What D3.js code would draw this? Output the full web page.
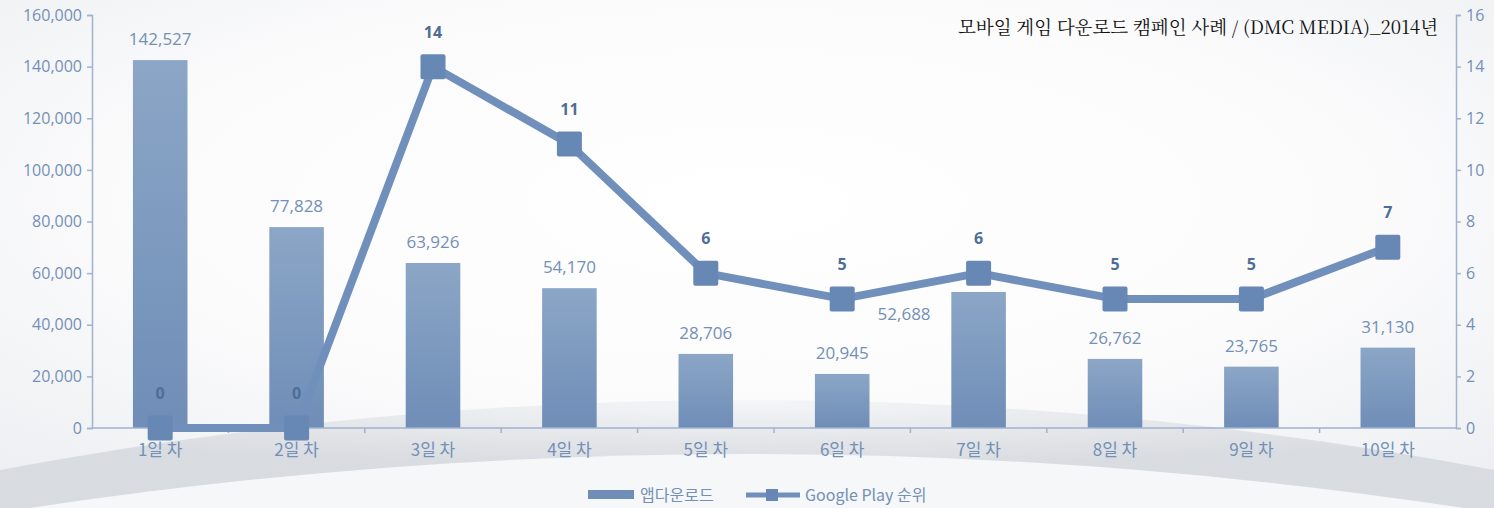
<!DOCTYPE html>
<html>
<head>
<meta charset="utf-8">
<script src="https://cdn.jsdelivr.net/npm/d3@7"></script>
<style>
  body { margin: 0; background: #fff; }
  svg { display: block; font-family: "Noto Sans CJK KR", "Noto Sans", sans-serif; }
</style>
</head>
<body>
<div id="chart"></div>
<script>
(function(){

const width = 1494;
const height = 508;
const margin = {top:15, right:38, bottom:80, left:92};

// data
const days = ["1일 차","2일 차","3일 차","4일 차","5일 차","6일 차","7일 차","8일 차","9일 차","10일 차"];
const downloads = [142527, 77828, 63926, 54170, 28706, 20945, 52688, 26762, 23765, 31130];
const ranks = [0, 0, 14, 11, 6, 5, 6, 5, 5, 7];
const leftTicks = [0, 20000, 40000, 60000, 80000, 100000, 120000, 140000, 160000];
const rightTicks = [0, 2, 4, 6, 8, 10, 12, 14, 16];
const seriesNames = ["앱다운로드", "Google Play 순위"];
const title = "모바일 게임 다운로드 캠페인 사례 / (DMC MEDIA)_2014년";

const axisColor = "#9fb3cf";
const textColor = "#7390b6";
const lineColor = "#7090bb";

const svg = d3.select("#chart")
  .append("svg")
  .attr("width", width)
  .attr("height", height);

const defs = svg.append("defs");

// background: soft grey with a white dome
const bg = defs.append("radialGradient")
  .attr("id", "bg")
  .attr("cx", "50%").attr("cy", "40%").attr("r", "75%");
bg.append("stop").attr("offset", "0%").attr("stop-color", "#ffffff");
bg.append("stop").attr("offset", "55%").attr("stop-color", "#fbfbfc");
bg.append("stop").attr("offset", "100%").attr("stop-color", "#eceef1");

const floor = defs.append("radialGradient")
  .attr("id", "floor")
  .attr("cx", "50%").attr("cy", "0%").attr("r", "60%");
floor.append("stop").attr("offset", "0%").attr("stop-color", "#f4f5f7");
floor.append("stop").attr("offset", "100%").attr("stop-color", "#d6d9de");

const barGrad = defs.append("linearGradient")
  .attr("id", "barGrad")
  .attr("x1", 0).attr("y1", 0).attr("x2", 0).attr("y2", 1);
barGrad.append("stop").attr("offset", "0%").attr("stop-color", "#8ba6c6");
barGrad.append("stop").attr("offset", "100%").attr("stop-color", "#6f8db7");

svg.append("rect")
  .attr("width", width).attr("height", height)
  .attr("fill", "url(#bg)");

// curved grey floor at the bottom
svg.append("path")
  .attr("d", `M0,${height} L0,470 Q${width/2},330 ${width},470 L${width},${height} Z`)
  .attr("fill", "url(#floor)")
  .attr("opacity", 0.9);
svg.append("path")
  .attr("d", `M30,${height} Q${width/2},400 ${width-30},${height} Z`)
  .attr("fill", "#f6f7f8");

// scales
const x = d3.scaleBand()
  .domain(days)
  .range([margin.left, width - margin.right])
  .paddingInner(0.6)
  .paddingOuter(0.3);

const xc = d => x(d) + x.bandwidth()/2;

const y = d3.scaleLinear()
  .domain([0, 160000])
  .range([height - margin.bottom, margin.top]);

const y2 = d3.scaleLinear()
  .domain([0, 16])
  .range([height - margin.bottom, margin.top]);

// bars
svg.selectAll(".bar")
  .data(downloads)
  .enter()
  .append("rect")
  .attr("class", "bar")
  .attr("x", (d,i) => x(days[i]))
  .attr("y", d => y(d))
  .attr("width", x.bandwidth())
  .attr("height", d => y(0) - y(d))
  .attr("fill", "url(#barGrad)");

// axes
const fmt = d3.format(",");

const leftAxis = svg.append("g")
  .attr("transform", `translate(${margin.left},0)`)
  .call(d3.axisLeft(y).tickValues(leftTicks).tickFormat(fmt).tickSizeOuter(0).tickSize(5));

const rightAxis = svg.append("g")
  .attr("transform", `translate(${width - margin.right},0)`)
  .call(d3.axisRight(y2).tickValues(rightTicks).tickSizeOuter(0).tickSize(5));

[leftAxis, rightAxis].forEach(g => {
  g.select(".domain").attr("stroke", axisColor).attr("stroke-width", 1.5);
  g.selectAll(".tick line").attr("stroke", axisColor).attr("stroke-width", 1.5);
  g.selectAll(".tick text")
    .attr("fill", textColor)
    .style("font-size", "16px")
    .style("font-family", "'Open Sans', 'Noto Sans', sans-serif");
});
leftAxis.selectAll(".tick text").attr("x", -10);
rightAxis.selectAll(".tick text").attr("x", 10);

// bottom axis with ticks between categories
const bottom = svg.append("g")
  .attr("transform", `translate(0,${y(0)})`);
bottom.append("line")
  .attr("x1", margin.left).attr("x2", width - margin.right)
  .attr("stroke", axisColor).attr("stroke-width", 1.5);
const step = x.step();
bottom.selectAll(".sep")
  .data(days.slice(1))
  .enter()
  .append("line")
  .attr("x1", d => x(d) - (step - x.bandwidth())/2)
  .attr("x2", d => x(d) - (step - x.bandwidth())/2)
  .attr("y1", 0).attr("y2", 5)
  .attr("stroke", axisColor).attr("stroke-width", 1.5);
bottom.selectAll(".xlab")
  .data(days)
  .enter()
  .append("text")
  .attr("x", d => xc(d))
  .attr("y", 28)
  .attr("text-anchor", "middle")
  .attr("fill", textColor)
  .style("font-size", "17px")
  .text(d => d);

// bar value labels (7일 label sits left of its bar, under the line)
svg.selectAll(".barLabel")
  .data(downloads)
  .enter()
  .append("text")
  .attr("class", "barLabel")
  .attr("x", (d,i) => i === 6 ? xc(days[i]) - 48 : xc(days[i]))
  .attr("y", (d,i) => i === 6 ? y(d) + 28 : y(d) - 15)
  .attr("text-anchor", (d,i) => i === 6 ? "end" : "middle")
  .attr("fill", textColor)
  .style("font-size", "17px")
  .style("font-family", "'Open Sans', 'Noto Sans', sans-serif")
  .text(d => fmt(d));

// rank line
const line = d3.line()
  .x((d,i) => xc(days[i]))
  .y(d => y2(d));

svg.append("path")
  .datum(ranks)
  .attr("d", line)
  .attr("fill", "none")
  .attr("stroke", lineColor)
  .attr("stroke-width", 8)
  .attr("stroke-linejoin", "round");

const mk = 25;
svg.selectAll(".marker")
  .data(ranks)
  .enter()
  .append("rect")
  .attr("class", "marker")
  .attr("x", (d,i) => xc(days[i]) - mk/2)
  .attr("y", d => y2(d) - mk/2)
  .attr("width", mk)
  .attr("height", mk)
  .attr("rx", 2)
  .attr("fill", "#6787b4");

svg.selectAll(".rankLabel")
  .data(ranks)
  .enter()
  .append("text")
  .attr("class", "rankLabel")
  .attr("x", (d,i) => xc(days[i]))
  .attr("y", d => y2(d) - 29)
  .attr("text-anchor", "middle")
  .attr("fill", "#4e6d98")
  .style("font-size", "16px")
  .style("font-weight", "bold")
  .style("font-family", "'Open Sans', 'Noto Sans', sans-serif")
  .text(d => d);

// title
svg.append("text")
  .attr("x", 1438)
  .attr("y", 34)
  .attr("text-anchor", "end")
  .attr("fill", "#111")
  .style("font-size", "18.5px")
  .style("font-family", "'Noto Serif CJK KR', 'Liberation Serif', 'Noto Sans CJK KR', serif")
  .text(title);

// legend
const legend = svg.append("g").attr("transform", "translate(588,495)");
legend.append("rect")
  .attr("x", 0).attr("y", -5)
  .attr("width", 46).attr("height", 9)
  .attr("fill", "#6f8db7");
legend.append("text")
  .attr("x", 52).attr("y", 6)
  .attr("fill", textColor)
  .style("font-size", "16px")
  .text(seriesNames[0]);
legend.append("line")
  .attr("x1", 158).attr("x2", 212)
  .attr("y1", 0).attr("y2", 0)
  .attr("stroke", lineColor).attr("stroke-width", 5);
legend.append("rect")
  .attr("x", 178).attr("y", -6)
  .attr("width", 12).attr("height", 12)
  .attr("fill", "#6787b4");
legend.append("text")
  .attr("x", 217).attr("y", 6)
  .attr("fill", textColor)
  .style("font-size", "16px")
  .text(seriesNames[1]);

})();
</script>
</body>
</html>
